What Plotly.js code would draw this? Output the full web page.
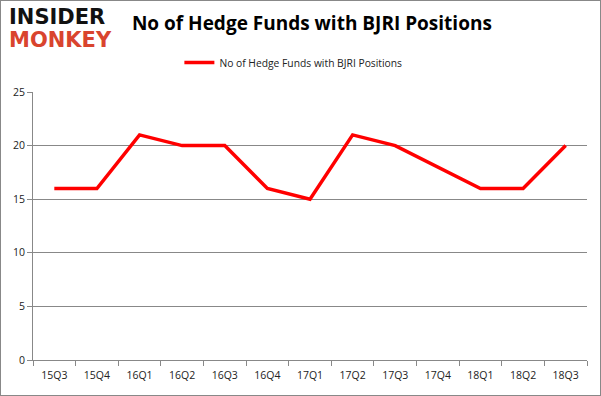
<!DOCTYPE html>
<html><head><meta charset="utf-8">
<script src="https://cdn.plot.ly/plotly-3.0.1.min.js"></script>
<style>html,body{margin:0;padding:0;background:#fff}#c{width:601px;height:396px;box-sizing:border-box;border:1px solid #888}</style>
</head><body><div id="c"></div>
<script>
const quarters = ["15Q3","15Q4","16Q1","16Q2","16Q3","16Q4","17Q1","17Q2","17Q3","17Q4","18Q1","18Q2","18Q3"];
const hedgeFunds = [16,16,21,20,20,16,15,21,20,18,16,16,20];
const seriesName = "No of Hedge Funds with BJRI Positions";
const yTicks = [0,5,10,15,20,25];

const font = "'Open Sans', 'Noto Sans', sans-serif";
Plotly.newPlot('c', [{
  x: quarters, y: hedgeFunds, type: 'scatter', mode: 'lines', name: seriesName,
  line: {color: '#ff0000', width: 3.5}
}], {
  width: 599, height: 394,
  margin: {l: 32, r: 13, t: 91, b: 35},
  paper_bgcolor: '#fff', plot_bgcolor: '#fff',
  showlegend: true,
  legend: {orientation: 'h', x: 0.47, xanchor: 'center', y: 1.11, yanchor: 'middle',
           font: {family: font, size: 10.3, color: '#222'}},
  title: {text: '<b>No of Hedge Funds with BJRI Positions</b>', x: 0.519, xanchor: 'center', y: 0.944, yanchor: 'middle',
          font: {family: font, size: 19, color: '#000'}},
  xaxis: {type: 'category', range: [-0.5, 12.5], tickson: 'boundaries', ticks: 'outside', ticklen: 5, tickcolor: '#888',
          showline: true, linecolor: '#888', showgrid: false, ticklabelstandoff: 5,
          tickfont: {family: font, size: 10.5, color: '#222'}},
  yaxis: {range: [0, 25], tickvals: yTicks, ticks: 'outside', ticklen: 5, tickcolor: '#888',
          showline: true, linecolor: '#888', gridcolor: '#888', zeroline: false,
          tickfont: {family: font, size: 10.5, color: '#222'}},
  annotations: [
    {text: '<b>INSIDER</b>', xref: 'paper', yref: 'paper', x: -0.047, y: 1.28, xanchor: 'left', yanchor: 'middle',
     showarrow: false, font: {family: "'DejaVu Sans', sans-serif", size: 21, color: '#111'}},
    {text: '<b>MONKEY</b>', xref: 'paper', yref: 'paper', x: -0.047, y: 1.194, xanchor: 'left', yanchor: 'middle',
     showarrow: false, font: {family: "'DejaVu Sans', sans-serif", size: 21, color: '#d9442e'}}
  ]
}, {displayModeBar: false, staticPlot: true});
</script></body></html>
